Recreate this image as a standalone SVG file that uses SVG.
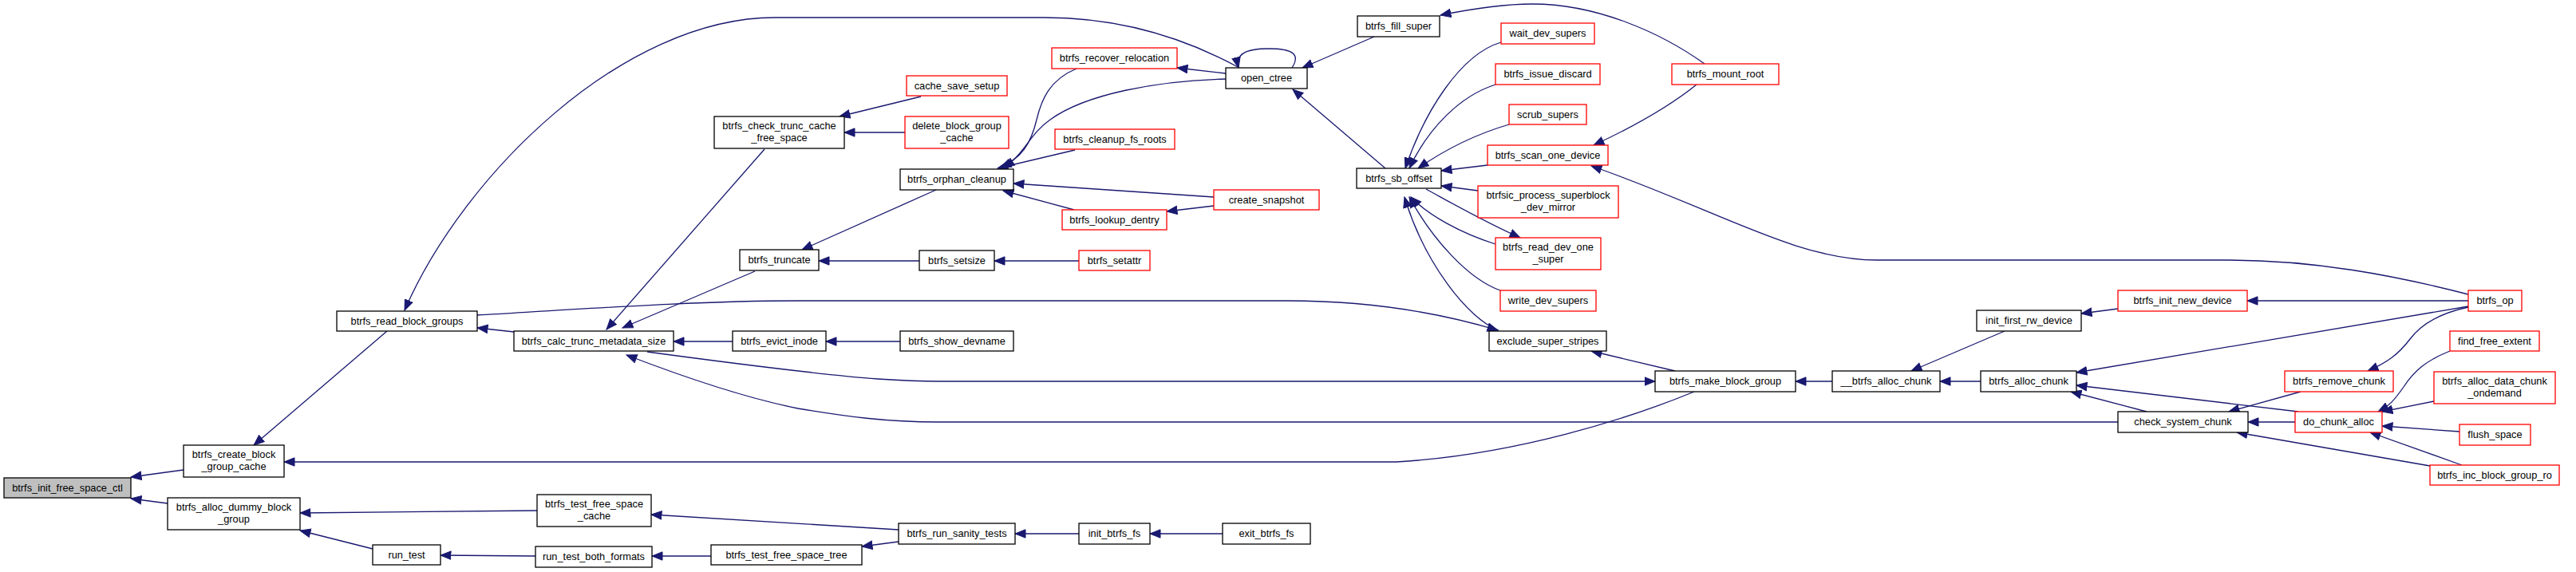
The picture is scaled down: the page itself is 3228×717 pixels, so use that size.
<svg xmlns="http://www.w3.org/2000/svg" width="3228" height="717" viewBox="0 0 3228 717">
<style>
.n rect{fill:#fff;stroke:#000;stroke-width:1.3}
.n.r rect{stroke:#ff0000}
.n.g rect{fill:#bfbfbf}
.n text{font-family:"Liberation Sans",Arial,sans-serif;font-size:12.8px;fill:#000;text-anchor:middle}
.e path{fill:none;stroke:#191970;stroke-width:1.3;marker-end:url(#ah)}
</style>
<defs>
<marker id="ah" markerWidth="15" markerHeight="12" refX="13.5" refY="6" orient="auto" markerUnits="userSpaceOnUse">
<path d="M0.5,0.8 L13.5,6 L0.5,11.2 Z" fill="#191970" stroke="#191970" stroke-width="1"/>
</marker>
</defs>
<rect width="3228" height="717" fill="#fff"/>
<g id="edges" class="e">
<path d="M230,589 L164,598"/>
<path d="M210,631 L164,625"/>
<path d="M485,415 L318,558"/>
<path d="M2123,491 C2040,525 1900,570 1750,579 L356,579"/>
<path d="M673,640 L376,643"/>
<path d="M467,688 L376,665"/>
<path d="M671,697 L552,696"/>
<path d="M891,697 L817,697"/>
<path d="M1126,664 L816,645"/>
<path d="M1126,679 L1080,685"/>
<path d="M1352,669 L1272,669"/>
<path d="M1532,669 L1441,669"/>
<path d="M644,416 L598,411"/>
<path d="M1553,85 C1480,45 1400,22 1309,22 L971,22 C780,22 580,220 507,389"/>
<path d="M958,187 L760,413"/>
<path d="M946,340 L780,411"/>
<path d="M918,428 L844,428"/>
<path d="M811,441 C900,453 1020,469 1100,475 C1130,477 1150,478 1176,478 L2074,478"/>
<path d="M2654,529 L1176,529 C1110,529 1060,522 1000,512 C930,498 850,470 785,445"/>
<path d="M598,395 C750,386 880,377 1000,377 L1614,377 C1700,377 1790,388 1877,414"/>
<path d="M1881,53 C1830,68 1785,140 1761,211"/>
<path d="M1874,106 C1830,120 1790,160 1766,211"/>
<path d="M1891,156 C1850,168 1810,188 1777,211"/>
<path d="M1864,207 L1806,214"/>
<path d="M1852,239 L1806,233"/>
<path d="M1874,306 C1830,292 1790,270 1768,247"/>
<path d="M1880,364 C1840,350 1795,300 1766,247"/>
<path d="M1878,414 C1840,400 1785,330 1760,247"/>
<path d="M1787,237 C1820,255 1860,278 1905,298"/>
<path d="M1736,211 L1620,112"/>
<path d="M1722,46 L1632,85"/>
<path d="M2136,80 C2080,40 2000,5 1920,5 C1880,5 1840,12 1805,19"/>
<path d="M2126,106 C2090,135 2040,162 1997,182"/>
<path d="M3093,369 C3000,345 2900,326 2790,326 L2352,326 C2250,326 2150,262 1994,208"/>
<path d="M1619,85 C1630,68 1620,61 1590,61 C1560,61 1548,68 1552,85"/>
<path d="M1536,92 L1475,85"/>
<path d="M1536,99 C1450,101 1360,118 1316,150 C1290,168 1285,192 1258,210"/>
<path d="M1349,86 C1315,100 1305,125 1299,150 C1292,180 1280,198 1254,210"/>
<path d="M1347,188 L1250,211"/>
<path d="M1521,247 L1270,230"/>
<path d="M1346,263 L1257,239"/>
<path d="M1521,258 L1462,265"/>
<path d="M1173,238 L1005,313"/>
<path d="M1152,327 L1026,327"/>
<path d="M1352,327 L1246,327"/>
<path d="M1154,121 L1052,146"/>
<path d="M1134,166 L1058,166"/>
<path d="M1128,428 L1035,428"/>
<path d="M2099,465 L1994,440"/>
<path d="M2296,478 L2250,478"/>
<path d="M2482,478 L2431,478"/>
<path d="M2512,415 L2395,465"/>
<path d="M2654,387 L2608,393"/>
<path d="M3093,377 L2816,377"/>
<path d="M3093,384 L2602,467"/>
<path d="M3093,385 C3060,392 3035,405 3020,425 C3005,445 2990,455 2967,465"/>
<path d="M2883,491 L2793,516"/>
<path d="M2880,516 L2602,483"/>
<path d="M2690,516 L2595,491"/>
<path d="M2876,529 L2817,529"/>
<path d="M3045,584 L2803,542"/>
<path d="M3070,440 C3040,452 3025,465 3012,485 C3000,502 2995,508 2980,516"/>
<path d="M3050,503 L2985,516"/>
<path d="M3082,541 L2985,534"/>
<path d="M3085,583 L2970,542"/>
</g>
<g id="btrfs_init_free_space_ctl" class="n g"><rect x="5" y="599" width="159" height="25"/><text x="84.5" y="616">btrfs_init_free_space_ctl</text></g>
<g id="btrfs_create_block_group_cache" class="n"><rect x="230" y="558" width="126" height="40"/><text x="293" y="574">btrfs_create_block</text><text x="293" y="589">_group_cache</text></g>
<g id="btrfs_alloc_dummy_block_group" class="n"><rect x="210" y="624" width="166" height="40"/><text x="293" y="640">btrfs_alloc_dummy_block</text><text x="293" y="655">_group</text></g>
<g id="btrfs_read_block_groups" class="n"><rect x="422" y="390" width="176" height="25"/><text x="510" y="407">btrfs_read_block_groups</text></g>
<g id="run_test" class="n"><rect x="467" y="683" width="85" height="25"/><text x="509.5" y="700">run_test</text></g>
<g id="btrfs_calc_trunc_metadata_size" class="n"><rect x="644" y="415" width="200" height="25"/><text x="744" y="432">btrfs_calc_trunc_metadata_size</text></g>
<g id="btrfs_evict_inode" class="n"><rect x="918" y="415" width="117" height="25"/><text x="976.5" y="432">btrfs_evict_inode</text></g>
<g id="btrfs_test_free_space_cache" class="n"><rect x="673" y="620" width="143" height="40"/><text x="744.5" y="636">btrfs_test_free_space</text><text x="744.5" y="651">_cache</text></g>
<g id="run_test_both_formats" class="n"><rect x="671" y="685" width="146" height="26"/><text x="744" y="702">run_test_both_formats</text></g>
<g id="btrfs_test_free_space_tree" class="n"><rect x="891" y="683" width="189" height="25"/><text x="985.5" y="700">btrfs_test_free_space_tree</text></g>
<g id="btrfs_check_trunc_cache_free_space" class="n"><rect x="895" y="146" width="163" height="40"/><text x="976.5" y="162">btrfs_check_trunc_cache</text><text x="976.5" y="177">_free_space</text></g>
<g id="btrfs_truncate" class="n"><rect x="927" y="313" width="99" height="26"/><text x="976.5" y="330">btrfs_truncate</text></g>
<g id="cache_save_setup" class="n r"><rect x="1136" y="95" width="126" height="25"/><text x="1199" y="112">cache_save_setup</text></g>
<g id="delete_block_group_cache" class="n r"><rect x="1134" y="146" width="130" height="40"/><text x="1199" y="162">delete_block_group</text><text x="1199" y="177">_cache</text></g>
<g id="btrfs_orphan_cleanup" class="n"><rect x="1128" y="212" width="142" height="26"/><text x="1199" y="229">btrfs_orphan_cleanup</text></g>
<g id="btrfs_setsize" class="n"><rect x="1152" y="314" width="94" height="25"/><text x="1199" y="331">btrfs_setsize</text></g>
<g id="btrfs_recover_relocation" class="n r"><rect x="1318" y="60" width="157" height="26"/><text x="1396.5" y="77">btrfs_recover_relocation</text></g>
<g id="btrfs_cleanup_fs_roots" class="n r"><rect x="1322" y="162" width="150" height="25"/><text x="1397" y="179">btrfs_cleanup_fs_roots</text></g>
<g id="btrfs_lookup_dentry" class="n r"><rect x="1331" y="263" width="131" height="25"/><text x="1396.5" y="280">btrfs_lookup_dentry</text></g>
<g id="btrfs_setattr" class="n r"><rect x="1352" y="314" width="89" height="25"/><text x="1396.5" y="331">btrfs_setattr</text></g>
<g id="open_ctree" class="n"><rect x="1536" y="85" width="102" height="26"/><text x="1587" y="102">open_ctree</text></g>
<g id="create_snapshot" class="n r"><rect x="1521" y="238" width="132" height="25"/><text x="1587" y="255">create_snapshot</text></g>
<g id="btrfs_show_devname" class="n"><rect x="1128" y="415" width="142" height="25"/><text x="1199" y="432">btrfs_show_devname</text></g>
<g id="btrfs_run_sanity_tests" class="n"><rect x="1126" y="656" width="146" height="26"/><text x="1199" y="673">btrfs_run_sanity_tests</text></g>
<g id="init_btrfs_fs" class="n"><rect x="1352" y="656" width="89" height="26"/><text x="1396.5" y="673">init_btrfs_fs</text></g>
<g id="exit_btrfs_fs" class="n"><rect x="1532" y="656" width="110" height="26"/><text x="1587" y="673">exit_btrfs_fs</text></g>
<g id="btrfs_fill_super" class="n"><rect x="1701" y="20" width="103" height="26"/><text x="1752.5" y="37">btrfs_fill_super</text></g>
<g id="wait_dev_supers" class="n r"><rect x="1881" y="29" width="117" height="26"/><text x="1939.5" y="46">wait_dev_supers</text></g>
<g id="btrfs_issue_discard" class="n r"><rect x="1874" y="80" width="131" height="26"/><text x="1939.5" y="97">btrfs_issue_discard</text></g>
<g id="scrub_supers" class="n r"><rect x="1891" y="131" width="97" height="25"/><text x="1939.5" y="148">scrub_supers</text></g>
<g id="btrfs_scan_one_device" class="n r"><rect x="1864" y="182" width="151" height="25"/><text x="1939.5" y="199">btrfs_scan_one_device</text></g>
<g id="btrfs_sb_offset" class="n"><rect x="1700" y="211" width="106" height="25"/><text x="1753" y="228">btrfs_sb_offset</text></g>
<g id="btrfsic_process_superblock_dev_mirror" class="n r"><rect x="1852" y="233" width="176" height="40"/><text x="1940" y="249">btrfsic_process_superblock</text><text x="1940" y="264">_dev_mirror</text></g>
<g id="btrfs_read_dev_one_super" class="n r"><rect x="1874" y="298" width="132" height="40"/><text x="1940" y="314">btrfs_read_dev_one</text><text x="1940" y="329">_super</text></g>
<g id="btrfs_mount_root" class="n r"><rect x="2095" y="80" width="134" height="26"/><text x="2162" y="97">btrfs_mount_root</text></g>
<g id="write_dev_supers" class="n r"><rect x="1880" y="364" width="120" height="26"/><text x="1940" y="381">write_dev_supers</text></g>
<g id="exclude_super_stripes" class="n"><rect x="1866" y="415" width="147" height="25"/><text x="1939.5" y="432">exclude_super_stripes</text></g>
<g id="btrfs_make_block_group" class="n"><rect x="2074" y="465" width="176" height="26"/><text x="2162" y="482">btrfs_make_block_group</text></g>
<g id="__btrfs_alloc_chunk" class="n"><rect x="2296" y="465" width="135" height="26"/><text x="2363.5" y="482">__btrfs_alloc_chunk</text></g>
<g id="init_first_rw_device" class="n"><rect x="2477" y="389" width="131" height="26"/><text x="2542.5" y="406">init_first_rw_device</text></g>
<g id="btrfs_alloc_chunk" class="n"><rect x="2482" y="465" width="120" height="26"/><text x="2542" y="482">btrfs_alloc_chunk</text></g>
<g id="btrfs_init_new_device" class="n r"><rect x="2654" y="364" width="162" height="26"/><text x="2735" y="381">btrfs_init_new_device</text></g>
<g id="check_system_chunk" class="n"><rect x="2654" y="516" width="163" height="26"/><text x="2735.5" y="533">check_system_chunk</text></g>
<g id="btrfs_op" class="n r"><rect x="3093" y="364" width="67" height="26"/><text x="3126.5" y="381">btrfs_op</text></g>
<g id="find_free_extent" class="n r"><rect x="3070" y="415" width="112" height="25"/><text x="3126" y="432">find_free_extent</text></g>
<g id="btrfs_remove_chunk" class="n r"><rect x="2863" y="465" width="136" height="26"/><text x="2931" y="482">btrfs_remove_chunk</text></g>
<g id="btrfs_alloc_data_chunk_ondemand" class="n r"><rect x="3050" y="466" width="152" height="40"/><text x="3126" y="482">btrfs_alloc_data_chunk</text><text x="3126" y="497">_ondemand</text></g>
<g id="do_chunk_alloc" class="n r"><rect x="2876" y="516" width="109" height="26"/><text x="2930.5" y="533">do_chunk_alloc</text></g>
<g id="flush_space" class="n r"><rect x="3082" y="532" width="89" height="26"/><text x="3126.5" y="549">flush_space</text></g>
<g id="btrfs_inc_block_group_ro" class="n r"><rect x="3045" y="583" width="162" height="25"/><text x="3126" y="600">btrfs_inc_block_group_ro</text></g>
</svg>
